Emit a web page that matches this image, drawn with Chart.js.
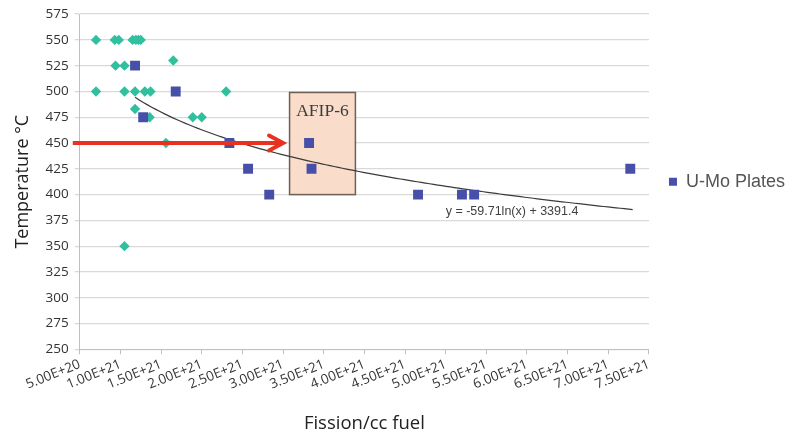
<!DOCTYPE html>
<html><head><meta charset="utf-8">
<script src="https://cdn.jsdelivr.net/npm/chart.js@4.4.1/dist/chart.umd.min.js"></script>
<style>html,body{margin:0;padding:0;background:#fff}#wrap{width:785px;height:435px;overflow:hidden}</style>
</head><body><div id="wrap"><canvas id="c"></canvas></div>
<script>
// Data
const plateX = [1.18e21, 1.68e21, 1.28e21, 2.34e21, 2.57e21, 2.83e21, 3.32e21, 3.35e21, 4.66e21, 5.20e21, 5.35e21, 7.27e21];
const plateY = [525, 500, 475, 450, 425, 400, 450, 425, 400, 400, 400, 425];
const otherX = [0.70e21, 0.93e21, 0.98e21, 1.15e21, 1.19e21, 1.22e21, 1.25e21,
                0.94e21, 1.05e21, 1.65e21,
                0.70e21, 1.05e21, 1.18e21, 1.30e21, 1.37e21, 2.30e21,
                1.18e21, 1.36e21, 1.89e21, 2.00e21,
                1.56e21, 1.05e21];
const otherY = [550, 550, 550, 550, 550, 550, 550,
                525, 525, 530,
                500, 500, 500, 500, 500, 500,
                483, 475, 475, 475,
                450, 350];
const xTickLabels = ['5.00E+20','1.00E+21','1.50E+21','2.00E+21','2.50E+21','3.00E+21','3.50E+21','4.00E+21','4.50E+21','5.00E+21','5.50E+21','6.00E+21','6.50E+21','7.00E+21','7.50E+21'];
const yTickLabels = ['250','275','300','325','350','375','400','425','450','475','500','525','550','575'];
const seriesName = 'U-Mo Plates';
const xTitle = 'Fission/cc fuel';
const yTitle = 'Temperature °C';
// Trendline (as printed on the chart)
const trendA = -59.71, trendB = 3391.4;
const trendLabel = 'y = -59.71ln(x) + 3391.4';
const trendFrom = 1.18e21, trendTo = 7.30e21;
const trendLabelAt = [5.0e21, 384];
// AFIP-6 box and arrow (data units)
const afipLabel = 'AFIP-6';
const afipBox = [3.08e21, 3.89e21, 400, 499];
const arrowFrom = [4.14e20, 450];
const arrowTo = [3.00e21, 450];

const xTickValues = xTickLabels.map(Number);
const yTickValues = yTickLabels.map(Number);

const overlay = {
  id: 'overlay',
  beforeDatasetsDraw(chart) {
    const {ctx, scales: {x, y}} = chart;
    const l = x.getPixelForValue(afipBox[0]), r = x.getPixelForValue(afipBox[1]);
    const b = y.getPixelForValue(afipBox[2]), t = y.getPixelForValue(afipBox[3]);
    ctx.save();
    ctx.fillStyle = '#F9DCC9';
    ctx.fillRect(l, t, r - l, b - t);
    ctx.strokeStyle = '#6E5F57';
    ctx.lineWidth = 1.5;
    ctx.strokeRect(l, t, r - l, b - t);
    ctx.fillStyle = '#3c3c3c';
    ctx.font = '17.5px "Liberation Serif", "DejaVu Serif", serif';
    ctx.textAlign = 'center';
    ctx.textBaseline = 'alphabetic';
    ctx.fillText(afipLabel, (l + r) / 2, t + 24);
    // trend line
    ctx.beginPath();
    const n = 120;
    for (let i = 0; i <= n; i++) {
      const xv = trendFrom + (trendTo - trendFrom) * i / n;
      const yv = trendA * Math.log(xv) + trendB;
      const px = x.getPixelForValue(xv), py = y.getPixelForValue(yv);
      if (i === 0) ctx.moveTo(px, py); else ctx.lineTo(px, py);
    }
    ctx.strokeStyle = '#3a3a3a';
    ctx.lineWidth = 1.2;
    ctx.stroke();
    ctx.restore();
  },
  afterDatasetsDraw(chart) {
    const {ctx, scales: {x, y}} = chart;
    ctx.save();
    ctx.fillStyle = '#404040';
    ctx.font = '12.5px "Liberation Sans", Arial, sans-serif';
    ctx.textAlign = 'left';
    ctx.textBaseline = 'middle';
    ctx.fillText(trendLabel, x.getPixelForValue(trendLabelAt[0]), y.getPixelForValue(trendLabelAt[1]));
    // arrow
    const x0 = x.getPixelForValue(arrowFrom[0]), y0 = y.getPixelForValue(arrowFrom[1]);
    const x1 = x.getPixelForValue(arrowTo[0]), y1 = y.getPixelForValue(arrowTo[1]);
    ctx.strokeStyle = '#E8321F';
    ctx.lineWidth = 4;
    ctx.lineCap = 'butt';
    ctx.beginPath();
    ctx.moveTo(x0, y0); ctx.lineTo(x1 - 2, y1);
    ctx.stroke();
    ctx.lineCap = 'round';
    ctx.lineJoin = 'miter';
    ctx.beginPath();
    ctx.moveTo(x1 - 14, y1 - 7.5); ctx.lineTo(x1, y1); ctx.lineTo(x1 - 14, y1 + 7.5);
    ctx.stroke();
    ctx.restore();
  }
};

new Chart(document.getElementById('c'), {
  type: 'scatter',
  data: {
    datasets: [
      {
        label: 'other',
        data: otherX.map((v, i) => ({x: v, y: otherY[i]})),
        pointStyle: 'rectRot',
        radius: 5.2,
        hoverRadius: 5.2,
        backgroundColor: '#30C09E',
        borderColor: '#30C09E',
        borderWidth: 0,
        order: 2
      },
      {
        label: seriesName,
        data: plateX.map((v, i) => ({x: v, y: plateY[i]})),
        pointStyle: 'rect',
        radius: 7,
        hoverRadius: 7,
        backgroundColor: '#4750A8',
        borderColor: '#4750A8',
        borderWidth: 0,
        order: 1
      }
    ]
  },
  options: {
    responsive: true,
    maintainAspectRatio: false,
    animation: false,
    events: [],
    layout: {padding: {top: 14, right: -10, bottom: 0, left: 12}},
    plugins: {
      tooltip: {enabled: false},
      legend: {
        position: 'right',
        align: 'center',
        fullSize: false,
        labels: {
          filter: item => item.text === seriesName,
          usePointStyle: true,
          pointStyle: 'rect',
          boxWidth: 8,
          boxHeight: 8,
          padding: 20,
          color: '#555555',
          font: {family: '"Liberation Sans", Arial, sans-serif', size: 18}
        }
      }
    },
    scales: {
      x: {
        type: 'linear',
        min: xTickValues[0],
        max: xTickValues[xTickValues.length - 1],
        afterBuildTicks: s => { s.ticks = xTickValues.map(v => ({value: v})); },
        ticks: {
          callback: (v, i) => xTickLabels[i],
          autoSkip: false,
          minRotation: 22,
          maxRotation: 22,
          color: '#333333',
          padding: 2,
          font: {family: '"Open Sans", sans-serif', size: 13.5}
        },
        grid: {drawOnChartArea: false, drawTicks: true, tickLength: 5, color: '#BFBFBF', lineWidth: 1},
        border: {color: '#BFBFBF', width: 1},
        title: {display: true, text: xTitle, color: '#222222', padding: {top: 18, bottom: 0},
          font: {family: '"Open Sans", sans-serif', size: 18.5}}
      },
      y: {
        min: yTickValues[0],
        max: yTickValues[yTickValues.length - 1],
        afterBuildTicks: s => { s.ticks = yTickValues.map(v => ({value: v})); },
        ticks: {
          callback: (v, i) => yTickLabels[i],
          color: '#333333',
          padding: 6,
          font: {family: '"Open Sans", sans-serif', size: 13.5}
        },
        grid: {color: '#D9D9D9', lineWidth: 1.3, tickLength: 5},
        border: {color: '#BFBFBF', width: 1},
        title: {display: true, text: yTitle, color: '#222222', padding: {top: 0, bottom: 6},
          font: {family: '"Open Sans", sans-serif', size: 18}}
      }
    }
  },
  plugins: [overlay]
});
</script></body></html>
